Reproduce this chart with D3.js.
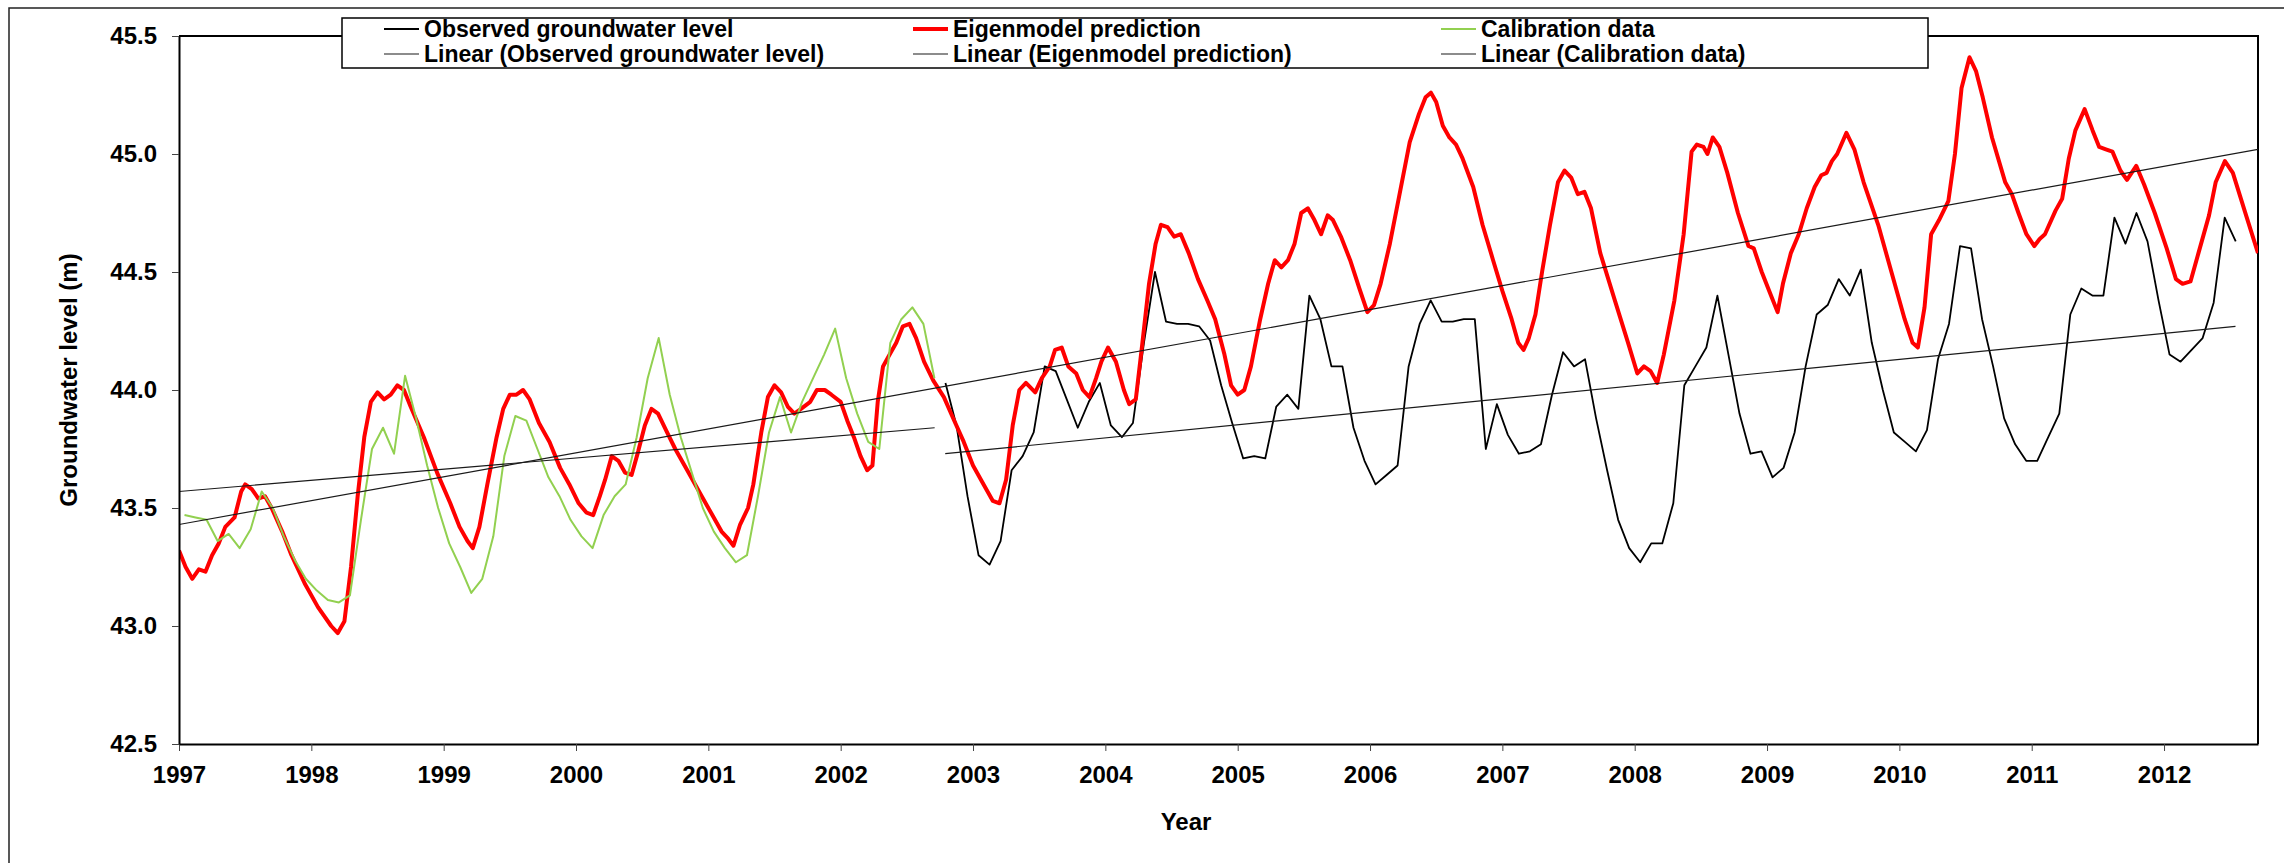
<!DOCTYPE html>
<html><head><meta charset="utf-8">
<script src="https://cdn.jsdelivr.net/npm/d3@7"></script>
<style>
body{margin:0;background:#fff;}
svg{display:block;}
text{font-family:"Liberation Sans",Arial,sans-serif;font-weight:bold;fill:#000;}
</style>
</head><body>
<svg id="chart" width="2284" height="863"></svg>
<script>
// ---------- data ----------
const yearTicks = d3.range(1997, 2013);
const levelTicks = [42.5, 43.0, 43.5, 44.0, 44.5, 45.0, 45.5];
const xDomain = [1997, 2012.71];
const yDomain = [42.5, 45.5];

const seriesNames = ["Observed groundwater level", "Eigenmodel prediction", "Calibration data",
  "Linear (Observed groundwater level)", "Linear (Eigenmodel prediction)", "Linear (Calibration data)"];

// Eigenmodel prediction (decimal year, level m)
const predictionYears = [1997.00,1997.05,1997.10,1997.15,1997.20,1997.25,1997.30,1997.35,1997.42,1997.47,1997.50,1997.55,1997.60,1997.65,1997.70,1997.78,1997.85,1997.95,1998.05,1998.15,1998.20,1998.25,1998.30,1998.35,1998.40,1998.45,1998.50,1998.55,1998.60,1998.65,1998.70,1998.75,1998.85,1998.95,1999.05,1999.12,1999.18,1999.22,1999.27,1999.33,1999.40,1999.45,1999.50,1999.55,1999.60,1999.65,1999.72,1999.80,1999.88,1999.95,2000.02,2000.08,2000.13,2000.18,2000.22,2000.27,2000.32,2000.37,2000.42,2000.47,2000.52,2000.57,2000.62,2000.68,2000.75,2000.85,2000.95,2001.03,2001.10,2001.15,2001.19,2001.24,2001.30,2001.34,2001.40,2001.45,2001.50,2001.55,2001.60,2001.65,2001.70,2001.77,2001.82,2001.88,2001.93,2002.00,2002.05,2002.10,2002.15,2002.20,2002.24,2002.28,2002.32,2002.37,2002.42,2002.47,2002.52,2002.57,2002.63,2002.70,2002.78,2002.85,2002.93,2003.00,2003.08,2003.15,2003.20,2003.25,2003.30,2003.35,2003.40,2003.47,2003.52,2003.58,2003.62,2003.67,2003.72,2003.78,2003.83,2003.88,2003.93,2003.97,2004.02,2004.08,2004.14,2004.18,2004.23,2004.28,2004.33,2004.38,2004.42,2004.47,2004.52,2004.57,2004.63,2004.70,2004.77,2004.83,2004.90,2004.95,2005.00,2005.05,2005.10,2005.17,2005.23,2005.28,2005.33,2005.38,2005.43,2005.48,2005.53,2005.58,2005.63,2005.68,2005.72,2005.78,2005.85,2005.92,2005.98,2006.03,2006.08,2006.15,2006.22,2006.30,2006.37,2006.42,2006.46,2006.50,2006.55,2006.60,2006.65,2006.70,2006.78,2006.85,2006.93,2007.00,2007.07,2007.12,2007.16,2007.20,2007.25,2007.30,2007.36,2007.42,2007.47,2007.52,2007.57,2007.62,2007.67,2007.74,2007.85,2007.95,2008.02,2008.07,2008.12,2008.17,2008.22,2008.30,2008.37,2008.43,2008.47,2008.52,2008.55,2008.59,2008.64,2008.70,2008.78,2008.86,2008.90,2008.96,2009.03,2009.08,2009.12,2009.18,2009.24,2009.30,2009.36,2009.41,2009.45,2009.49,2009.53,2009.60,2009.66,2009.73,2009.84,2009.94,2010.04,2010.10,2010.14,2010.19,2010.24,2010.30,2010.37,2010.42,2010.47,2010.53,2010.58,2010.63,2010.70,2010.80,2010.85,2010.90,2010.96,2011.02,2011.06,2011.10,2011.18,2011.23,2011.28,2011.33,2011.40,2011.46,2011.51,2011.56,2011.61,2011.67,2011.72,2011.79,2011.85,2011.93,2012.02,2012.09,2012.14,2012.20,2012.26,2012.34,2012.39,2012.46,2012.52,2012.62,2012.71];
const predictionLevels = [43.32,43.25,43.20,43.24,43.23,43.30,43.35,43.42,43.46,43.57,43.60,43.58,43.54,43.55,43.50,43.40,43.30,43.18,43.08,43.00,42.97,43.02,43.25,43.55,43.80,43.95,43.99,43.96,43.98,44.02,44.00,43.93,43.80,43.65,43.52,43.42,43.36,43.33,43.42,43.60,43.80,43.92,43.98,43.98,44.00,43.96,43.86,43.78,43.67,43.60,43.52,43.48,43.47,43.55,43.62,43.72,43.70,43.65,43.64,43.74,43.85,43.92,43.90,43.83,43.75,43.65,43.55,43.47,43.40,43.37,43.34,43.43,43.50,43.60,43.82,43.97,44.02,43.99,43.93,43.90,43.92,43.95,44.00,44.00,43.98,43.95,43.87,43.80,43.72,43.66,43.68,43.95,44.10,44.15,44.20,44.27,44.28,44.22,44.12,44.04,43.97,43.88,43.78,43.68,43.60,43.53,43.52,43.62,43.85,44.00,44.03,43.99,44.05,44.10,44.17,44.18,44.10,44.07,44.00,43.97,44.05,44.12,44.18,44.12,44.00,43.94,43.96,44.20,44.45,44.62,44.70,44.69,44.65,44.66,44.58,44.47,44.38,44.30,44.15,44.02,43.98,44.00,44.10,44.30,44.45,44.55,44.52,44.55,44.62,44.75,44.77,44.72,44.66,44.74,44.72,44.65,44.55,44.43,44.33,44.36,44.45,44.62,44.82,45.05,45.17,45.24,45.26,45.22,45.12,45.07,45.04,44.98,44.86,44.70,44.55,44.42,44.30,44.20,44.17,44.22,44.32,44.50,44.70,44.88,44.93,44.90,44.83,44.84,44.77,44.58,44.38,44.20,44.07,44.10,44.08,44.03,44.15,44.38,44.66,45.01,45.04,45.03,45.00,45.07,45.03,44.92,44.75,44.61,44.60,44.50,44.40,44.33,44.45,44.58,44.66,44.77,44.86,44.91,44.92,44.97,45.00,45.09,45.02,44.88,44.70,44.50,44.30,44.20,44.18,44.35,44.66,44.72,44.80,45.00,45.28,45.41,45.35,45.24,45.07,44.88,44.83,44.75,44.66,44.61,44.64,44.66,44.76,44.81,44.98,45.10,45.19,45.10,45.03,45.02,45.01,44.93,44.89,44.95,44.87,44.75,44.60,44.47,44.45,44.46,44.58,44.74,44.88,44.97,44.92,44.74,44.58];

// Calibration data: monthly values from Jan 1997 to Sep 2002
const calibrationStart = [1997, 1];
const calibrationLevels = [
  43.47,43.46,43.45,43.36,43.39,43.33,43.41,43.57,43.50,43.38,43.28,43.20, // 1997
  43.15,43.11,43.10,43.13,43.45,43.75,43.84,43.73,44.06,43.88,43.68,43.50, // 1998
  43.35,43.25,43.14,43.20,43.38,43.72,43.89,43.87,43.75,43.63,43.55,43.45, // 1999
  43.38,43.33,43.47,43.55,43.60,43.80,44.05,44.22,43.98,43.80,43.65,43.50, // 2000
  43.40,43.33,43.27,43.30,43.55,43.82,43.97,43.82,43.95,44.05,44.15,44.26, // 2001
  44.05,43.90,43.78,43.75,44.20,44.30,44.35,44.28,44.05                    // 2002
];

// Observed groundwater level: monthly values from Oct 2002 to Jul 2012
const observedStart = [2002, 10];
const observedLevels = [
  44.03,43.85,43.55,                                                       // 2002
  43.30,43.26,43.36,43.66,43.72,43.82,44.10,44.08,43.96,43.84,43.95,44.03, // 2003
  43.85,43.80,43.86,44.20,44.50,44.29,44.28,44.28,44.27,44.21,44.02,43.86, // 2004
  43.71,43.72,43.71,43.93,43.98,43.92,44.40,44.30,44.10,44.10,43.84,43.70, // 2005
  43.60,43.64,43.68,44.10,44.28,44.38,44.29,44.29,44.30,44.30,43.75,43.94, // 2006
  43.81,43.73,43.74,43.77,43.98,44.16,44.10,44.13,43.88,43.66,43.45,43.33, // 2007
  43.27,43.35,43.35,43.52,44.02,44.10,44.18,44.40,44.15,43.90,43.73,43.74, // 2008
  43.63,43.67,43.82,44.10,44.32,44.36,44.47,44.40,44.51,44.20,44.00,43.82, // 2009
  43.78,43.74,43.83,44.13,44.28,44.61,44.60,44.30,44.10,43.88,43.77,43.70, // 2010
  43.70,43.80,43.90,44.32,44.43,44.40,44.40,44.73,44.62,44.75,44.63,44.38, // 2011
  44.15,44.12,44.17,44.22,44.37,44.73,44.63                                // 2012
];

// Linear trend lines (order: observed, prediction, calibration)
const trendStartYears  = [2002.79, 1997.00, 1997.00];
const trendEndYears    = [2012.54, 2012.71, 2002.71];
const trendStartLevels = [43.73, 43.43, 43.57];
const trendEndLevels   = [44.27, 45.02, 43.84];

// ---------- helpers ----------
function monthlyPoints(start, values) {
  return values.map((v, i) => {
    const m = start[1] - 1 + i;
    return [start[0] + (m + 0.5) / 12, v];
  });
}

const predictionPts = predictionYears.map((yv, i) => [yv, predictionLevels[i]]);
const calibrationPts = monthlyPoints(calibrationStart, calibrationLevels);
const observedPts = monthlyPoints(observedStart, observedLevels);

// ---------- layout ----------
const svg = d3.select("#chart");
const W = 2284, H = 863;
const plot = {left: 179, right: 2258, top: 36, bottom: 744};

svg.append("rect").attr("width", W).attr("height", H).attr("fill", "#fff");
// outer chart border (extends beyond the picture on right and bottom)
svg.append("rect").attr("x", 9).attr("y", 8).attr("width", W + 20).attr("height", H + 20)
  .attr("fill", "none").attr("stroke", "#222").attr("stroke-width", 1.5);

const x = d3.scaleLinear().domain(xDomain).range([plot.left, plot.right]);
const y = d3.scaleLinear().domain(yDomain).range([plot.bottom, plot.top]);

svg.append("defs").append("clipPath").attr("id", "clip")
  .append("rect").attr("x", plot.left).attr("y", plot.top)
  .attr("width", plot.right - plot.left).attr("height", plot.bottom - plot.top);

// plot area frame (top & right)
svg.append("path")
  .attr("d", `M${plot.left},${plot.top}H${plot.right}V${plot.bottom}`)
  .attr("fill", "none").attr("stroke", "#000").attr("stroke-width", 2);

const line = d3.line().x(d => x(d[0])).y(d => y(d[1]));
const g = svg.append("g").attr("clip-path", "url(#clip)");

g.append("path").datum(observedPts).attr("d", line)
  .attr("fill", "none").attr("stroke", "#000").attr("stroke-width", 1.8).attr("stroke-linejoin", "round");
g.append("path").datum(predictionPts).attr("d", line)
  .attr("fill", "none").attr("stroke", "#ff0000").attr("stroke-width", 4).attr("stroke-linejoin", "round");
g.append("path").datum(calibrationPts).attr("d", line)
  .attr("fill", "none").attr("stroke", "#92d050").attr("stroke-width", 2).attr("stroke-linejoin", "round");

// linear trend lines
trendStartYears.forEach((x0, i) => {
  g.append("path")
    .datum([[x0, trendStartLevels[i]], [trendEndYears[i], trendEndLevels[i]]])
    .attr("d", line)
    .attr("fill", "none").attr("stroke", "#1a1a1a").attr("stroke-width", 1.2);
});

// axes
const xAxis = d3.axisBottom(x).tickValues(yearTicks).tickFormat(d3.format("d"))
  .tickSizeInner(7).tickSizeOuter(0).tickPadding(15);
const yAxis = d3.axisLeft(y).tickValues(levelTicks).tickFormat(d3.format(".1f"))
  .tickSizeInner(7).tickSizeOuter(0).tickPadding(15);

const gx = svg.append("g").attr("transform", `translate(0,${plot.bottom})`).call(xAxis);
const gy = svg.append("g").attr("transform", `translate(${plot.left},0)`).call(yAxis);
[gx, gy].forEach(a => {
  a.select(".domain").attr("stroke", "#000").attr("stroke-width", 2);
  a.selectAll(".tick line").attr("stroke", "#444").attr("stroke-width", 1);
  a.selectAll(".tick text").style("font-size", "24px").style("font-weight", "bold")
    .style("font-family", '"Liberation Sans", Arial, sans-serif').attr("fill", "#000");
});

// axis titles
svg.append("text").attr("x", 1186).attr("y", 830).attr("text-anchor", "middle")
  .style("font-size", "24px").text("Year");
svg.append("text").attr("transform", "translate(77,380) rotate(-90)").attr("text-anchor", "middle")
  .style("font-size", "24px").text("Groundwater level (m)");

// legend
const legend = svg.append("g");
legend.append("rect").attr("x", 342).attr("y", 18).attr("width", 1586).attr("height", 50)
  .attr("fill", "#fff").attr("stroke", "#000").attr("stroke-width", 1.5);
const colX = [384, 913, 1441];
const rowY = [29, 54];
const legendStyles = [
  {c: "#000", w: 1.8}, {c: "#ff0000", w: 4}, {c: "#92d050", w: 2},
  {c: "#1a1a1a", w: 1.2}, {c: "#1a1a1a", w: 1.2}, {c: "#1a1a1a", w: 1.2}
];
seriesNames.forEach((name, i) => {
  const cx = colX[i % 3], cy = rowY[Math.floor(i / 3)];
  legend.append("line").attr("x1", cx).attr("x2", cx + 35).attr("y1", cy).attr("y2", cy)
    .attr("stroke", legendStyles[i].c).attr("stroke-width", legendStyles[i].w);
  legend.append("text").attr("x", cx + 40).attr("y", cy + 8)
    .style("font-size", "23px").text(name);
});
</script>
</body></html>
